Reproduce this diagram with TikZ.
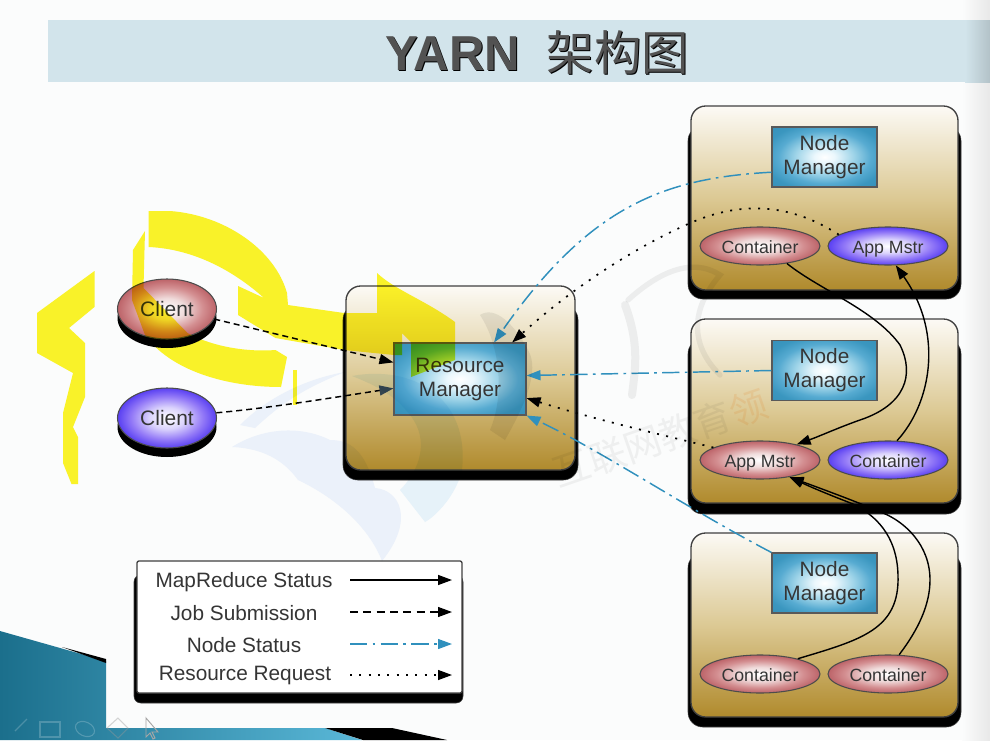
\documentclass[tikz,border=0pt]{standalone}
\usepackage{fontspec}
\setmainfont{Liberation Sans}
\newfontfamily\cjk{Noto Sans CJK SC}
\usetikzlibrary{shapes.geometric,arrows.meta}
\definecolor{bgc}{HTML}{FBFCFC}
\definecolor{band}{HTML}{D2E4EB}
\definecolor{txt}{HTML}{353535}
\definecolor{tealc}{HTML}{3090BD}
\definecolor{ylw}{HTML}{FDF52A}
\definecolor{slate}{HTML}{35454F}
\definecolor{tanmid}{HTML}{DCC994}
\definecolor{goldbot}{HTML}{B08A2C}
\definecolor{tantop}{HTML}{FCFAF5}
\definecolor{teala}{HTML}{1B6F8C}
\definecolor{tealb}{HTML}{5AB8D8}
\definecolor{wmblue}{HTML}{EFF4FD}
\definecolor{wmcyan}{HTML}{EAF5FC}
\pgfdeclareradialshading{softblue}{\pgfpoint{0bp}{0bp}}{rgb(0bp)=(1,1,1); rgb(5bp)=(.92,.97,.99); rgb(14bp)=(.62,.83,.91); rgb(22bp)=(.34,.67,.82); rgb(29bp)=(.23,.59,.75); rgb(50bp)=(.18,.52,.68)}
\pgfdeclareradialshading{softred}{\pgfpoint{0bp}{0bp}}{rgb(0bp)=(1,1,1); rgb(9bp)=(.94,.86,.86); rgb(18bp)=(.83,.56,.57); rgb(25bp)=(.74,.39,.41); rgb(50bp)=(.74,.39,.41)}
\pgfdeclareradialshading{softviolet}{\pgfpoint{0bp}{0bp}}{rgb(0bp)=(1,1,1); rgb(9bp)=(.86,.83,.99); rgb(18bp)=(.58,.48,.97); rgb(25bp)=(.35,.25,.95); rgb(50bp)=(.35,.25,.95)}
\tikzset{
  tanbox/.style={draw=black!75,line width=1pt,rounded corners=11pt,inner sep=0pt,
    top color=tantop,bottom color=goldbot,middle color=tanmid},
  shadowbox/.style={fill=black,draw=black!75,rounded corners=11pt},
  bluebox/.style={draw=black!65,line width=.8pt,shading=softblue,
    inner sep=0pt,align=center,text=txt,font=\fontsize{15.6}{18}\selectfont,
    execute at begin node={\vspace*{3pt}}},
  nmbox/.style={bluebox,minimum width=78.75pt,minimum height=45pt},
  redfill/.style={shading=softred},
  bluefill/.style={shading=softviolet},
  oval/.style={ellipse,draw=black!70,line width=.8pt,inner sep=0pt,minimum width=90pt,minimum height=28.5pt,
    text=txt,font=\fontsize{13.3}{15}\selectfont,text height=12pt,text depth=1pt},
  clientoval/.style={ellipse,draw=black!70,line width=.8pt,inner sep=0pt,minimum width=74.25pt,minimum height=45pt,
    text=txt,font=\fontsize{15.7}{18}\selectfont},
  legendtext/.style={inner sep=0pt,text=txt,font=\fontsize{15.6}{18}\selectfont},
  tip/.style={-{Triangle[length=10.5pt,width=7.5pt]}},
  tealtip/.style={-{Triangle[length=10.5pt,width=7.5pt,color=tealc,fill=tealc]}},
  mrline/.style={tip,draw=black,line width=1.05pt},
  jobline/.style={tip,draw=black,line width=1.1pt,dash pattern=on 4.5pt off 3pt},
  nodeline/.style={tealtip,draw=tealc,line width=1.1pt,dash pattern=on 13pt off 4pt on 2pt off 4pt},
  reqline/.style={tip,draw=black,line width=1.3pt,dash pattern=on 1.5pt off 5.5pt},
  marker/.style={fill=ylw,draw=none},
  titletext/.style={inner sep=0pt},
}
\newcommand{\slidetitle}{{\fontsize{36.8}{40}\selectfont\bfseries YARN}\hspace{20pt}{\fontsize{35.6}{40}\selectfont\cjk 架构图}}
\begin{document}
\begin{tikzpicture}[x=0.75pt,y=-0.75pt]
\useasboundingbox (0,0) rectangle (990,740);
% slide background
\fill[bgc] (0,0) rectangle (990,740);
\shade[left color=bgc,right color=black!9] (962,0) rectangle (990,740);
\shade[left color=band,right color=band!85!black] (965,20) rectangle (990,82);
\fill[band] (48,20) rectangle (966,82);
% teal corner
\shade[shading angle=40,left color=teala,right color=tealb] (0,631) -- (106,661) -- (106,728) -- (325,728) -- (362,740) -- (0,740) -- cycle;
\fill[black] (62,647) -- (106,659) -- (106,663) -- cycle;
\fill[black] (325,728) -- (392,728) -- (447,740) -- (363,740) -- cycle;
\draw[white,opacity=.2,line width=1pt] (15,731) -- (27,719);
\draw[white,opacity=.2,line width=.8pt] (40,722) rectangle (60,737);
\draw[white,opacity=.2,line width=.8pt,rotate around={-25:(85,729)}] (85,729) ellipse (10 and 7);
\draw[black!40,opacity=.4,line width=.8pt] (118,718) -- (128,728) -- (118,738) -- (107,728) -- cycle;
\draw[black!35,line width=.7pt] (146,718) -- (146,737) -- (150,733) -- (153,739) -- (155,738) -- (152,732) -- (158,732) -- cycle;
% title
\node[titletext,text=black] (titleshade) at (538.5,53) {\slidetitle};
\node[titletext,text=black!68] (title) at (537.5,52) {\slidetitle};
% shadows
\fill[shadowbox] (343,305) rectangle (578,480);
\fill[shadowbox] (688,126) rectangle (961,299);
\fill[shadowbox] (688,339) rectangle (961,514);
\fill[shadowbox] (688,553) rectangle (961,727);
\fill[shadowbox,rounded corners=5pt] (134,575) rectangle (463,703);
\fill[black] (167,318) ellipse (49.5 and 30);
\fill[black] (167,427) ellipse (49.5 and 30);
% containers
\node[tanbox,minimum width=171.75pt,minimum height=138pt] (rmbox) at (460.5,378) {};
\node[tanbox,minimum width=200.25pt,minimum height=138pt] (n1) at (824.5,198) {};
\node[tanbox,minimum width=200.25pt,minimum height=138pt] (n2) at (824.5,411) {};
\node[tanbox,minimum width=200.25pt,minimum height=138pt] (n3) at (824.5,625) {};
% inner nodes
\node[bluebox,minimum width=99pt,minimum height=54pt] (rm) at (460,379) {Resource\\Manager};
\node[nmbox] (nm1) at (824.5,157) {Node\\Manager};
\node[nmbox] (nm2) at (824.5,370.5) {Node\\Manager};
\node[nmbox] (nm3) at (824.5,583) {Node\\Manager};
\node[oval,redfill] (c1) at (760,246) {Container};
\node[oval,bluefill] (a1) at (888,246) {App Mstr};
\node[oval,redfill] (a2) at (760,460) {App Mstr};
\node[oval,bluefill] (b2) at (888,460) {Container};
\node[oval,redfill] (c3) at (760,674) {Container};
\node[oval,redfill] (c4) at (888,674) {Container};
\node[clientoval,redfill] (cl1) at (167,309) {Client};
\node[clientoval,bluefill] (cl2) at (167,418) {Client};
% connectors
\draw[jobline] (cl1.-12) -- (rm.166);
\draw[jobline,-{Triangle[length=10.5pt,width=7.5pt,color=slate,fill=slate]}] (cl2.6) .. controls (270,408) and (330,398) .. (rm.188);
\draw[nodeline] (nm1.-164) .. controls (665,178) and (590,205) .. (rm.47);
\draw[reqline] (a1.167) .. controls (785,200) and (735,203) .. (688,224) .. controls (630,250) and (570,290) .. (rm.35);
\draw[nodeline] (nm2.west) -- (rm.3);
\draw[reqline] (a2.165) .. controls (650,432) and (590,418) .. (rm.-16);
\draw[nodeline] (nm3.north west) .. controls (690,510) and (600,450) .. (rm.south east);
\draw[mrline] (c1.-33) .. controls (820,290) and (875,310) .. (900,345) .. controls (915,375) and (905,405) .. (860,420) .. controls (840,427) and (820,436) .. (a2.23);
\draw[mrline] (b2.65) .. controls (930,405) and (945,335) .. (a1.-68);
\draw[mrline] (c3.22) .. controls (860,640) and (900,630) .. (898,575) .. controls (897,535) and (875,515) .. (853,504) .. controls (835,497) and (815,489) .. (a2.-30);
\draw[mrline] (c4.60) .. controls (918,630) and (930,605) .. (930,580) .. controls (930,545) and (905,522) .. (883,513) .. controls (860,503) and (825,490) .. (a2.-30);
% legend
\node[draw=black!75,line width=1pt,fill=white,rounded corners=1.5pt,minimum width=243.75pt,minimum height=99pt] (legend) at (299.5,627) {};
\node[legendtext] (t1) at (244,582.5) {MapReduce Status};
\node[legendtext] (t2) at (244,613) {Job Submission};
\node[legendtext] (t3) at (244,645) {Node Status};
\node[legendtext] (t4) at (245,675) {Resource Request};
\coordinate (l1a) at (350,580); \coordinate (l1b) at (452,580);
\coordinate (l2a) at (350,612); \coordinate (l2b) at (452,612);
\coordinate (l3a) at (350,644); \coordinate (l3b) at (452,644);
\coordinate (l4a) at (350,675); \coordinate (l4b) at (452,675);
\draw[mrline] (l1a) -- (l1b);
\draw[jobline,dash pattern=on 6pt off 4pt,line width=.9pt] (l2a) -- (l2b);
\draw[nodeline,line width=.9pt] (l3a) -- (l3b);
\draw[reqline,line width=1pt] (l4a) -- (l4b);
% watermark and marker strokes lie over the picture
\begin{scope}[blend mode=multiply]
  \fill[wmblue] (232,447) .. controls (262,428) and (300,425) .. (330,440) .. controls (350,440) and (365,450) .. (375,488) .. controls (400,490) and (415,520) .. (382,561) .. controls (370,530) and (340,500) .. (298,480) .. controls (280,455) and (255,448) .. cycle;
  \fill[wmcyan] (352,376) .. controls (410,365) and (470,395) .. (462,470) .. controls (455,500) and (430,520) .. (425,522) -- (400,490) .. controls (420,470) and (430,440) .. (410,415) .. controls (395,395) and (375,385) .. cycle;
  \fill[wmblue] (240,425) .. controls (270,395) and (310,378) .. (345,372) .. controls (300,390) and (280,405) .. (255,428) -- cycle;
  \fill[black!7] (480,315) .. controls (495,305) and (515,325) .. (528,350) .. controls (540,370) and (525,405) .. (505,440) -- (490,430) .. controls (505,395) and (500,345) .. cycle;
  \draw[black!6,line width=6pt,line cap=round] (625,305) .. controls (640,345) and (635,370) .. (632,395);
  \draw[black!6,line width=4pt,line cap=round] (628,300) .. controls (670,262) and (700,262) .. (720,275) .. controls (690,310) and (690,345) .. (720,375);
  \node[rotate=19,inner sep=0pt,text=black!5] (wmark) at (660,438) {\fontsize{28}{30}\selectfont\cjk 互联网教育\textcolor{orange!12}{领}};
  \fill[marker] (94.5,271) -- (94.5,307) -- (69,328) -- (85,343) -- (85,397) -- (73,427) -- (78,437) -- (78,484) -- (71.5,484) -- (63,463) -- (63,413) -- (73,373) -- (37,353) -- (37,313) -- cycle;
  \fill[marker] (148.5,211) -- (170,211) .. controls (225,215) and (275,250) .. (287,293) -- (288,305) -- (344,313) -- (377,313) -- (377,273) .. controls (395,290) and (425,300) .. (455,322) -- (455,360) -- (411,377) -- (411,342) -- (402,333) -- (402,355) -- (394,355) -- (344,350) -- (275.5,338) -- (238,315) -- (238,286) -- (264,298) .. controls (235,272) and (195,249) .. (148.5,247) -- cycle;
  \fill[marker] (145,231) -- (133,250) -- (132,300) -- (145,335) .. controls (170,370) and (225,387) .. (281,387) -- (287,357) -- (275.5,350) .. controls (250,352) and (215,348) .. (187.5,333) -- (143.5,288) -- cycle;
  \fill[marker] (293,370) rectangle (297,405);
\end{scope}
\end{tikzpicture}
\end{document}
